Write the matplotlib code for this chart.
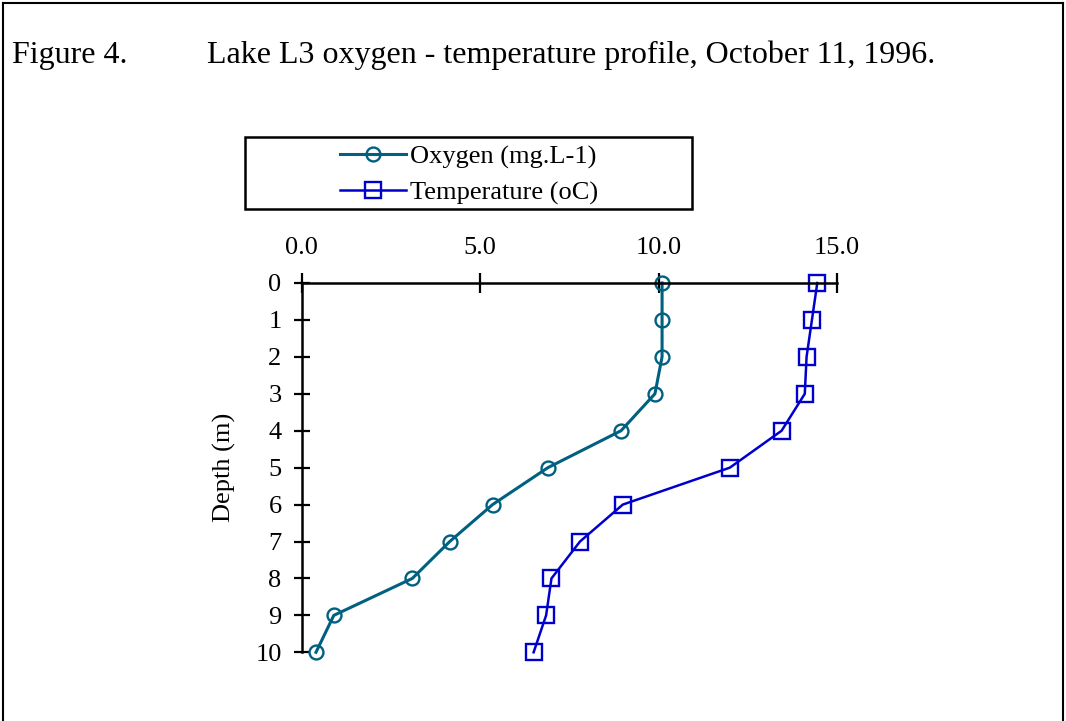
import matplotlib.pyplot as plt
from matplotlib.lines import Line2D
from matplotlib.patches import Rectangle

depth = [0, 1, 2, 3, 4, 5, 6, 7, 8, 9, 10]
oxygen = [10.1, 10.1, 10.1, 9.9, 8.95, 6.9, 5.35, 4.15, 3.1, 0.9, 0.4]
temperature = [14.45, 14.3, 14.15, 14.1, 13.45, 12.0, 9.0, 7.8, 7.0, 6.85, 6.5]
xticks = [0, 5, 10, 15]
xticklabels = ['0.0', '5.0', '10.0', '15.0']

plt.rcParams['font.family'] = ['Liberation Serif', 'DejaVu Serif']

fig = plt.figure(figsize=(10.66, 7.21), dpi=100)
W, H = 1066, 721

# page frame (left, top, right)
fig.add_artist(Line2D([2.5 / W, 2.5 / W], [0, 1 - 2.5 / H], color='black', linewidth=1.5))
fig.add_artist(Line2D([2.5 / W, 1 - 3 / W], [1 - 2.5 / H, 1 - 2.5 / H], color='black', linewidth=1.5))
fig.add_artist(Line2D([1 - 3 / W, 1 - 3 / W], [0, 1 - 2.5 / H], color='black', linewidth=1.5))

fig.text(12 / W, 1 - 63 / H, 'Figure 4.', fontsize=23, va='baseline', ha='left')
fig.text(207 / W, 1 - 63 / H, 'Lake L3 oxygen - temperature profile, October 11, 1996.',
         fontsize=23, va='baseline', ha='left')

ax = fig.add_axes([301.7 / W, 1 - 652.3 / H, (836.9 - 301.7) / W, (652.3 - 283) / H])

ax.plot(oxygen, depth, color='#006080', linewidth=2.2, marker='o', markersize=10,
        markerfacecolor='none', markeredgecolor='#006080', markeredgewidth=1.7,
        label='Oxygen (mg.L-1)', clip_on=False)
ax.plot(temperature, depth, color='#0000CC', linewidth=1.8, marker='s', markersize=11,
        markerfacecolor='none', markeredgecolor='#0000CC', markeredgewidth=1.7,
        label='Temperature (oC)', clip_on=False)

ax.set_xlim(0, 15)
ax.set_ylim(10, 0)
ax.set_xticks(xticks)
ax.set_xticklabels(xticklabels)
ax.set_yticks(depth)

ax.spines['right'].set_visible(False)
ax.spines['bottom'].set_visible(False)
ax.spines['top'].set_linewidth(1.8)
ax.spines['left'].set_linewidth(1.8)

ax.xaxis.set_ticks_position('top')
ax.xaxis.set_label_position('top')
ax.tick_params(axis='x', direction='inout', length=14, width=1.6, labelsize=19, pad=10)
ax.tick_params(axis='y', direction='inout', length=11, width=1.6, labelsize=19, pad=9)
ax.patch.set_visible(False)

ax.set_ylabel('Depth (m)', fontsize=19, labelpad=14)

leg = fig.legend(loc='center', bbox_to_anchor=(469.5 / W, 1 - 175 / H), frameon=False,
                 fontsize=19, handlelength=2.5, handletextpad=0.15, labelspacing=0.45,
                 borderpad=0)
fig.add_artist(Rectangle((245 / W, 1 - 209 / H), (692 - 245) / W, (209 - 137) / H,
                         transform=fig.transFigure, fill=False, edgecolor='black', linewidth=1.8))

fig.savefig('out.png', dpi=100)
